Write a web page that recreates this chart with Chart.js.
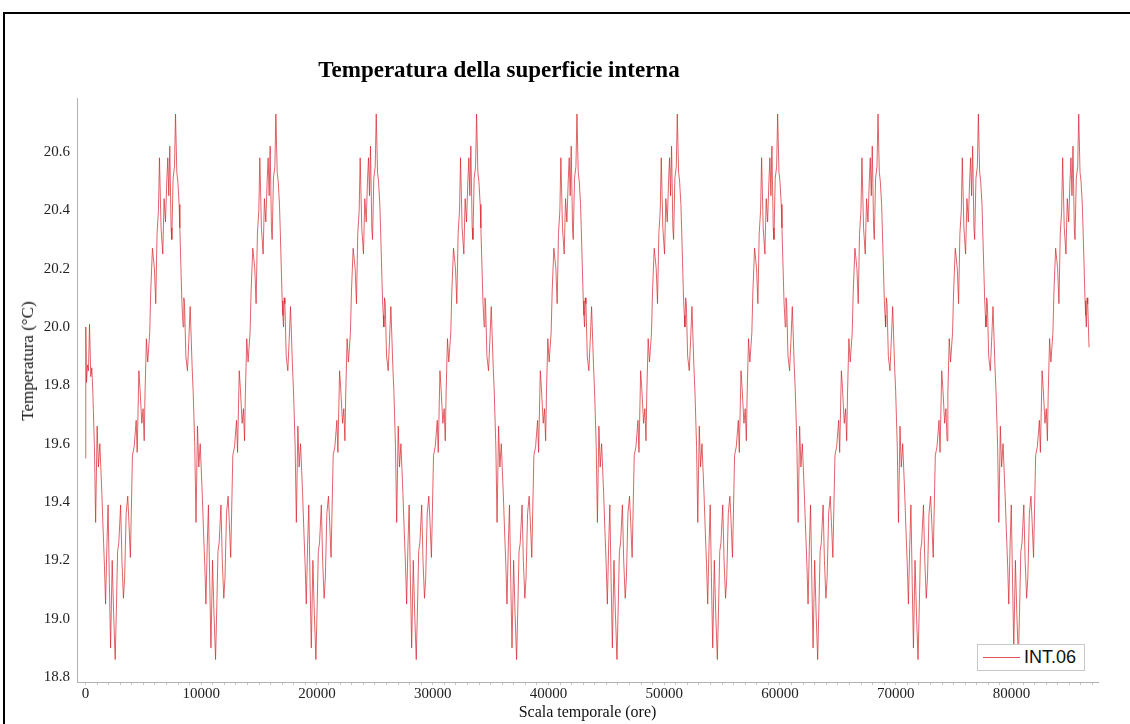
<!DOCTYPE html>
<html>
<head>
<meta charset="utf-8">
<script src="https://cdn.jsdelivr.net/npm/chart.js@4.4.1/dist/chart.umd.min.js"></script>
<style>
  html, body { margin: 0; padding: 0; background: #fff; }
  #wrap { position: relative; width: 1130px; height: 724px; overflow: hidden; background: #fff; }
  #frame { position: absolute; left: 3px; top: 12px; width: 1300px; height: 900px;
           border-left: 2px solid #000; border-top: 2px solid #000; }
  #title { position: absolute; left: 0; width: 998px; top: 57px; line-height: 26px; text-align: center;
           font: bold 23px "Liberation Serif", serif; color: #000; }
  #ytitle { position: absolute; left: 28px; top: 361px; width: 0; height: 0; }
  #ytitle span { position: absolute; left: 0; top: 0; transform: translate(-50%, -50%) rotate(-90deg);
                 white-space: nowrap; font: 17px "Liberation Serif", serif; color: #111; line-height: 20px; }
  #legend { position: absolute; left: 977px; top: 644px; width: 108px; height: 27px;
            border: 1px solid #c8c8c8; background: #fff; box-sizing: border-box; }
  #legend .sw { position: absolute; left: 5px; top: 12px; width: 37px; height: 0; border-top: 1px solid rgba(214,40,48,0.8); }
  #legend .tx { position: absolute; left: 46px; top: 2px; line-height: 22px;
                font: 18px "Liberation Sans", Arial, sans-serif; color: #111; }
  canvas { position: absolute; left: 0; top: 0; }
</style>
</head>
<body>
<div id="wrap">
  <div id="frame"></div>
  <canvas id="c" width="1130" height="724"></canvas>
  <div id="title">Temperatura della superficie interna</div>
  <div id="ytitle"><span>Temperatura (°C)</span></div>
  <div id="legend"><span class="sw"></span><span class="tx">INT.06</span></div>
</div>
<script>
// ---- data ----
const seriesName = 'INT.06';
const periodHours = 8670;      // spacing of the repeating yearly cycle on the time axis
const periodsCount = 10;

// start of the first cycle (initial transient)
const firstHeadHours = [0, 25, 89, 173, 257, 346, 459];
const firstHeadTemps = [19.55, 20.00, 19.81, 19.87, 19.85, 20.01, 19.83];

// repeating cycle profile (hour within cycle -> temperature °C)
const cycleHours = [0, 139, 251, 373, 546, 632, 772, 876, 1006, 1118, 1240, 1413, 1526, 1639, 1734, 1847,
  1951, 2064, 2168, 2306, 2428, 2566, 2679, 2774, 2878, 3035, 3147, 3277, 3381, 3512, 3650, 3754,
  3876, 4058, 4205, 4379, 4465, 4612, 4708, 4864, 4976, 5072, 5142, 5262, 5375, 5548, 5636, 5783,
  5956, 6069, 6182, 6304, 6390, 6528, 6676, 6789, 6910, 7023, 7109, 7196, 7282, 7395, 7457, 7568,
  7690, 7777, 7890, 7976, 8089, 8149, 8324, 8384, 8435, 8497, 8557];
const cycleTemps = [19.90, 19.85, 19.95, 20.07, 19.86, 19.78, 19.59, 19.33, 19.66, 19.52, 19.60, 19.43, 19.30, 19.18, 19.05, 19.25,
  19.39, 19.12, 18.90, 19.20, 19.02, 18.86, 19.05, 19.23, 19.26, 19.39, 19.20, 19.07, 19.14, 19.36, 19.42, 19.33,
  19.21, 19.56, 19.59, 19.68, 19.57, 19.85, 19.79, 19.67, 19.72, 19.61, 19.77, 19.96, 19.88, 19.98, 20.12, 20.27,
  20.20, 20.08, 20.32, 20.40, 20.58, 20.34, 20.25, 20.44, 20.36, 20.50, 20.58, 20.45, 20.62, 20.34, 20.30, 20.51,
  20.55, 20.73, 20.53, 20.50, 20.42, 20.34, 20.09, 20.04, 20.00, 20.10, 20.08];
const finalHour = 86700;
const finalTemp = 19.93;

const xTickLabels = [0, 10000, 20000, 30000, 40000, 50000, 60000, 70000, 80000];
const yTickLabels = [18.8, 19.0, 19.2, 19.4, 19.6, 19.8, 20.0, 20.2, 20.4, 20.6];

// ---- build the series ----
const points = [];
firstHeadHours.forEach((h, i) => points.push({ x: h, y: firstHeadTemps[i] }));
for (let p = 0; p < periodsCount; p++) {
  cycleHours.forEach((h, i) => {
    if (p === 0 && h <= firstHeadHours[firstHeadHours.length - 1]) return;
    points.push({ x: p * periodHours + h, y: cycleTemps[i] });
  });
}
points.push({ x: finalHour, y: finalTemp });

const minorStep = 1000;
const serif = 'Liberation Serif';

new Chart(document.getElementById('c'), {
  type: 'line',
  data: {
    datasets: [{
      label: seriesName,
      data: points,
      borderColor: 'rgba(214,40,48,0.72)',
      borderWidth: 1,
      pointRadius: 0,
      tension: 0,
      fill: false
    }]
  },
  options: {
    responsive: false,
    animation: false,
    layout: { padding: { top: 98, right: 32, bottom: 0, left: 0 } },
    plugins: { legend: { display: false }, title: { display: false }, tooltip: { enabled: false } },
    scales: {
      x: {
        type: 'linear',
        min: -734,
        max: 87473,
        afterBuildTicks: (s) => {
          const t = [];
          for (let v = 0; v <= 87000; v += minorStep) t.push({ value: v });
          s.ticks = t;
        },
        ticks: {
          autoSkip: false, maxRotation: 0, padding: 0, color: '#222',
          font: { family: serif, size: 15 },
          callback: (v) => xTickLabels.includes(v) ? String(v) : ''
        },
        grid: { display: true, drawOnChartArea: false, drawTicks: true, tickLength: 3, color: '#c4c4c4' },
        border: { display: true, color: '#b0b0b0' },
        title: { display: true, text: 'Scala temporale (ore)', color: '#111',
                 font: { family: serif, size: 16 }, padding: { top: 0, bottom: 2 } },
        afterFit: (s) => { s.height = 42; }
      },
      y: {
        min: 18.783,
        max: 20.785,
        afterBuildTicks: (s) => { s.ticks = yTickLabels.map(v => ({ value: v })); },
        ticks: { color: '#222', padding: 7, font: { family: serif, size: 15 },
                 callback: (v) => Number(v).toFixed(1) },
        grid: { display: false, drawTicks: false },
        border: { display: true, color: '#b0b0b0' },
        title: { display: false },
        afterFit: (s) => { s.width = 77; }
      }
    }
  }
});
</script>
</body>
</html>
